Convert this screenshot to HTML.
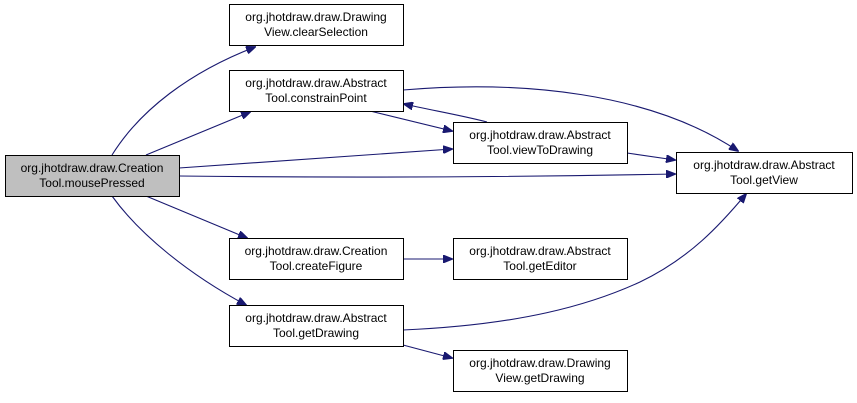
<!DOCTYPE html>
<html><head><meta charset="utf-8"><style>
html,body{margin:0;padding:0;background:#fff;}
svg{display:block;}
text{font-family:"Liberation Sans",Arial,sans-serif;font-size:12px;fill:#000;}
</style></head><body>
<svg width="857" height="403" viewBox="0 0 857 403" xmlns="http://www.w3.org/2000/svg">
<defs>
<marker id="a" markerWidth="10" markerHeight="8" refX="9" refY="4" orient="auto" markerUnits="userSpaceOnUse">
<path d="M0,0 L10,4 L0,8 z" fill="#191970" stroke="#191970"/>
</marker>
</defs>
<g fill="none" stroke="#191970" stroke-width="1.1" marker-end="url(#a)">
<path d="M112,155 C140,110 190,72 255,47"/>
<path d="M146,155 L250,112"/>
<path d="M179,168 L452,149"/>
<path d="M179,176 C350,178 520,177 675,174"/>
<path d="M146,196 L247,238"/>
<path d="M112,196 C140,235 190,275 246,305"/>
<path d="M370,111 L452,131"/>
<path d="M487,122 C460,115 430,110 404,104"/>
<path d="M403,90 C520,80 650,92 738,151"/>
<path d="M627,153 L675,160"/>
<path d="M403,259 L452,259"/>
<path d="M403,330 C520,325 590,305 640,282 C690,258 720,225 746,194"/>
<path d="M403,345 L452,358"/>
</g>
<g stroke="#000" stroke-width="1">
<rect x="5.5" y="155.5" width="174" height="41" fill="#bfbfbf"/>
<rect x="229.5" y="4.5" width="174" height="41" fill="#fff"/>
<rect x="229.5" y="70.5" width="174" height="41" fill="#fff"/>
<rect x="453.5" y="122.5" width="174" height="41" fill="#fff"/>
<rect x="676.5" y="152.5" width="176" height="41" fill="#fff"/>
<rect x="229.5" y="238.5" width="174" height="41" fill="#fff"/>
<rect x="453.5" y="238.5" width="174" height="41" fill="#fff"/>
<rect x="229.5" y="305.5" width="174" height="41" fill="#fff"/>
<rect x="453.5" y="350.5" width="174" height="41" fill="#fff"/>
</g>
<g text-anchor="middle">
<text x="92" y="172">org.jhotdraw.draw.Creation</text><text x="92" y="187">Tool.mousePressed</text>
<text x="316" y="21">org.jhotdraw.draw.Drawing</text><text x="316" y="36">View.clearSelection</text>
<text x="316" y="87">org.jhotdraw.draw.Abstract</text><text x="316" y="102">Tool.constrainPoint</text>
<text x="540" y="139">org.jhotdraw.draw.Abstract</text><text x="540" y="154">Tool.viewToDrawing</text>
<text x="764" y="169">org.jhotdraw.draw.Abstract</text><text x="764" y="184">Tool.getView</text>
<text x="316" y="255">org.jhotdraw.draw.Creation</text><text x="316" y="270">Tool.createFigure</text>
<text x="540" y="255">org.jhotdraw.draw.Abstract</text><text x="540" y="270">Tool.getEditor</text>
<text x="316" y="322">org.jhotdraw.draw.Abstract</text><text x="316" y="337">Tool.getDrawing</text>
<text x="540" y="367">org.jhotdraw.draw.Drawing</text><text x="540" y="382">View.getDrawing</text>
</g>
</svg>
</body></html>
